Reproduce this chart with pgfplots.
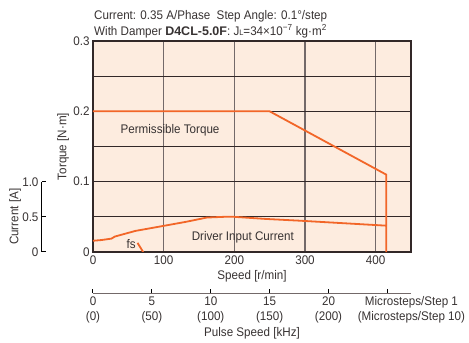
\documentclass[border=0pt]{standalone}
\usepackage{fontspec}
\setmainfont{Liberation Sans}[FakeStretch=0.93]
\newfontfamily\boldfont{Liberation Sans}[FakeStretch=1.0]
\usepackage{pgfplots}
\pgfplotsset{compat=1.18}

\definecolor{bgpeach}{RGB}{253,236,223}
\definecolor{curve}{RGB}{242,102,40}
\definecolor{gridv}{RGB}{115,105,105}
\definecolor{gridh}{RGB}{50,40,40}
\definecolor{txt}{RGB}{55,50,50}

\pgfplotsset{
  every axis/.append style={
    font=\fontsize{12.5}{15}\selectfont,
    /pgf/number format/assume math mode=true,
    tick label style={text=txt, font=\fontsize{12.5}{15}\selectfont},
    label style={text=txt, font=\fontsize{12.5}{15}\selectfont},
  },
}

\begin{document}
\begin{tikzpicture}[font=\fontsize{12.5}{15}\selectfont]
\path[use as bounding box] (-93pt,-91pt) rectangle (376pt,252pt);

% torque axis
\begin{axis}[
  name=main,
  scale only axis, width=318pt, height=211pt,
  xmin=0, xmax=450, ymin=0, ymax=0.3,
  xtick={0,100,200,300,400}, xticklabels={0,100,200,300,400},
  ytick={0,0.1,0.2,0.3}, yticklabels={0,0.1,0.2,0.3},
  minor ytick={0.05,0.15,0.25},
  major tick length=0pt, minor tick length=0pt,
  xmajorgrids, ymajorgrids, yminorgrids,
  major x grid style={gridv, line width=1.1pt},
  major y grid style={gridh, line width=1.1pt},
  minor y grid style={gridh, line width=1.1pt},
  axis line style={gridh, line width=1.2pt},
  axis background/.style={fill=bgpeach},
  xlabel={Speed [r/min]}, ylabel={Torque [N·m]},
  xlabel style={at={(axis description cs:0.5,-0.114)}, anchor=center},
  ylabel style={at={(axis description cs:-0.094,0.5)}, anchor=center},
]
\addplot[curve, line width=1.8pt] coordinates {
  (0,0.2) (250,0.2) (415,0.11) (415,0)
};
\node[text=txt] at (axis cs:109,0.1735) {Permissible Torque};
\node[text=txt] at (axis cs:212,0.021) {Driver Input Current};
\node[text=txt] at (axis cs:54,0.011) {fs};
\end{axis}

% current axis
\begin{axis}[
  scale only axis, width=318pt, height=70.3pt,
  xmin=0, xmax=450, ymin=0, ymax=1,
  hide x axis,
  axis y line*=left, axis y line shift=51pt,
  ytick={0,0.5,1}, yticklabels={0,0.5,1.0},
  tick align=inside, major tick length=4pt,
  axis line style={black, line width=1pt},
  major tick style={black, line width=1pt},
  ylabel={Current [A]},
  ylabel style={at={(axis description cs:-0.245,0.5)}, anchor=center},
]
\addplot[curve, line width=1.8pt] coordinates {
  (0,0.16) (12,0.17) (26,0.19) (31,0.22) (60,0.30) (99,0.37)
  (132,0.43) (161,0.49) (185,0.50) (200,0.50) (245,0.47)
  (293,0.445) (416,0.374)
};
\addplot[curve, line width=1.8pt] coordinates {(63,0.13) (71,0)};
\end{axis}

% pulse speed axis
\begin{axis}[
  scale only axis, width=318pt, height=10pt, at={(0,-41pt)},
  xmin=0, xmax=27, ymin=0, ymax=1,
  hide y axis, axis x line*=bottom, clip=false,
  xtick={0,5,10,15,20,25},
  xticklabels={0\\(0),5\\(50),10\\(100),15\\(150),20\\(200),{}},
  xticklabel style={align=center},
  tick align=inside, major tick length=4pt,
  axis line style={gridv, line width=1pt},
  major tick style={black, line width=1pt},
  xlabel={Pulse Speed [kHz]},
  xlabel style={at={(axis description cs:0.5,-4.0)}, anchor=center},
]
\addplot[draw=none] coordinates {(0,0) (27,0)};
\node[text=txt, align=center, anchor=north, inner sep=3pt] at (axis cs:25,0) [xshift=24pt]
  {Microsteps/Step 1\\(Microsteps/Step 10)};
\end{axis}

\node[anchor=base west, inner sep=0pt, text=txt] at ([xshift=1pt,yshift=22pt]main.north west)
  {Current: 0.35 A/Phase\ \ Step Angle: 0.1\textdegree/step};
\node[anchor=base west, inner sep=0pt, text=txt] at ([xshift=1pt,yshift=6pt]main.north west)
  {With Damper {\boldfont\bfseries D4CL-5.0F}: J{\fontsize{8}{9}\selectfont L}=34×10\textsuperscript{−7} kg·m\textsuperscript{2}};
\end{tikzpicture}
\end{document}
